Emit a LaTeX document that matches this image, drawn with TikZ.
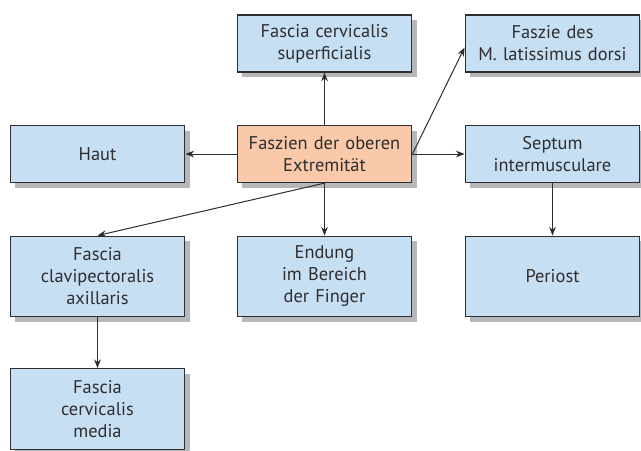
\documentclass[tikz,border=0pt]{standalone}
\usepackage{fontspec}
\setmainfont{PT Sans}
\usetikzlibrary{arrows.meta,shadows}
\definecolor{boxblue}{HTML}{C7DFF3}
\definecolor{boxorange}{HTML}{F9C9A9}
\definecolor{boxline}{HTML}{2E2E30}
\definecolor{shadowgray}{HTML}{B6B7BB}
\tikzset{
  box/.style={draw=boxline, line width=0.9pt, fill=boxblue,
    minimum width=131pt, text width=125pt, align=center,
    font=\fontsize{13.8}{16.5}\selectfont, text=boxline, inner sep=0pt,
    drop shadow={shadow xshift=3.8pt, shadow yshift=-3.8pt, fill=shadowgray, opacity=1}},
  lowbox/.style={box, minimum height=42.75pt},
  tallbox/.style={box, minimum height=60.5pt},
  mainbox/.style={lowbox, fill=boxorange},
  link/.style={draw=boxline, line width=0.75pt, -{Stealth[length=6.5pt,width=5pt]}}
}
\begin{document}
\begin{tikzpicture}[x=0.75pt,y=-0.75pt]
\useasboundingbox (0,0) rectangle (641,450);
\fill[white] (0,0) rectangle (641,450);
% top row
\node[lowbox] (sup) at (324.5,43.5) {Fascia cervicalis\\superficialis};
\node[lowbox] (lat) at (552.5,43.5) {Faszie des\\M. latissimus dorsi};
% middle row
\node[lowbox] (haut) at (97.5,154) {Haut};
\node[mainbox] (ctr) at (324.5,154) {Faszien der oberen\\Extremität};
\node[lowbox] (sep) at (552.5,154) {Septum\\intermusculare};
% lower row
\node[tallbox] (clav) at (97.5,276.5) {Fascia\\clavipectoralis\\axillaris};
\node[tallbox] (end) at (324.5,276.5) {Endung\\im Bereich\\der Finger};
\node[tallbox] (per) at (552.5,276.5) {Periost};
% bottom row
\node[tallbox] (med) at (97.5,409) {Fascia\\cervicalis\\media};
% connectors
\draw[link] (ctr.north) -- (sup.south);
\draw[link] (ctr.west) -- (haut.east);
\draw[link] (ctr.east) -- (sep.west);
\draw[link] (ctr.east) -- ([yshift=-3pt]lat.west);
\draw[link] (ctr.south) -- (end.north);
\draw[link] (ctr.south) -- (clav.north);
\draw[link] (clav.south) -- (med.north);
\draw[link] (sep.south) -- (per.north);
\end{tikzpicture}
\end{document}
